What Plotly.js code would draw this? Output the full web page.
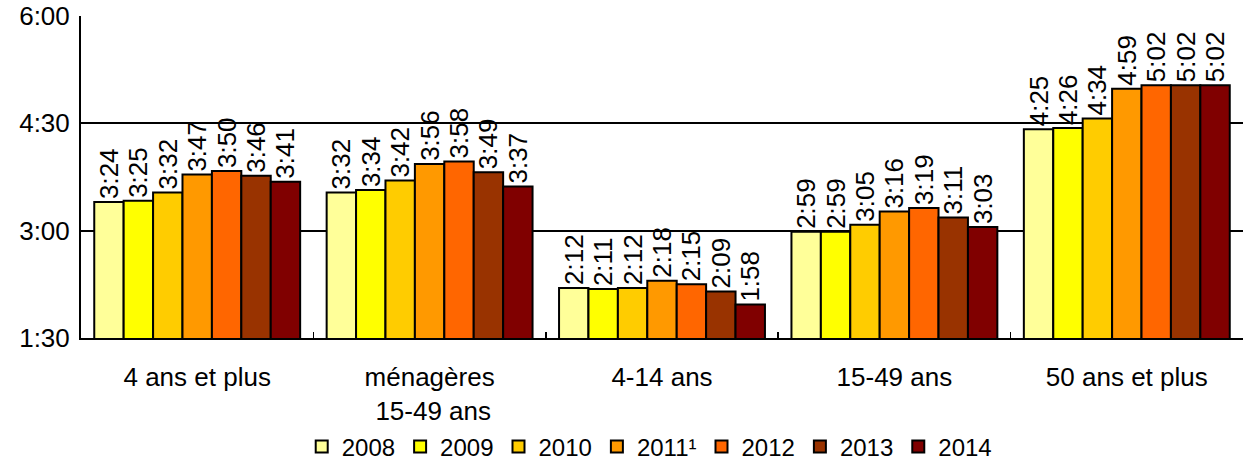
<!DOCTYPE html>
<html>
<head>
<meta charset="utf-8">
<script src="https://cdn.plot.ly/plotly-3.0.1.min.js"></script>
<style>html,body{margin:0;padding:0;background:#fff;}#chart{width:1245px;height:464px;}</style>
</head>
<body>
<div id="chart"></div>
<script>
const categories = ["4 ans et plus", "ménagères<br> 15-49 ans", "4-14 ans", "15-49 ans", "50 ans et plus"];
const years = ["2008", "2009", "2010", "2011¹", "2012", "2013", "2014"];
const colors = ["#FFFF99", "#FFFF00", "#FFCC00", "#FF9900", "#FF6600", "#993300", "#800000"];
// values in minutes, per year
const v2008 = [204, 212, 132, 179, 265];
const v2009 = [205, 214, 131, 179, 266];
const v2010 = [212, 222, 132, 185, 274];
const v2011 = [227, 236, 138, 196, 299];
const v2012 = [230, 238, 135, 199, 302];
const v2013 = [226, 229, 129, 191, 302];
const v2014 = [221, 217, 118, 183, 302];
const tickVals = [90, 180, 270, 360];
const tickText = ["1:30", "3:00", "4:30", "6:00"];

const series = [v2008, v2009, v2010, v2011, v2012, v2013, v2014];
function fmt(m) { const h = Math.floor(m / 60), mm = m % 60; return h + ":" + (mm < 10 ? "0" : "") + mm; }
const FONT = "Liberation Sans, Arial, sans-serif";

const traces = series.map((vals, i) => ({
  type: "bar",
  name: years[i],
  x: categories,
  y: vals,
  text: vals.map(fmt),
  textposition: "outside",
  textangle: -90,
  constraintext: "none",
  cliponaxis: false,
  textfont: {family: FONT, size: 26, color: "#000"},
  marker: {color: colors[i], line: {color: "#000", width: 2}},
  hoverinfo: "skip"
}));

const layout = {
  width: 1245, height: 464,
  margin: {l: 81, r: 2, t: 16, b: 126, autoexpand: false},
  paper_bgcolor: "#fff", plot_bgcolor: "#fff",
  font: {family: FONT, size: 26, color: "#000"},
  barmode: "group",
  bargap: 0.114,
  bargroupgap: 0,
  showlegend: true,
  legend: {
    orientation: "h", x: 0.489, xanchor: "center", y: -0.338, yanchor: "middle",
    font: {family: FONT, size: 24, color: "#000"},
    traceorder: "normal", itemwidth: 30
  },
  xaxis: {
    type: "category",
    showline: true, linecolor: "#000", linewidth: 2,
    ticks: "inside", tickson: "boundaries", ticklen: 6, tickcolor: "#000", tickwidth: 1.5,
    showgrid: false,
    ticklabelstandoff: 15,
    tickfont: {family: FONT, size: 26, color: "#000"}
  },
  yaxis: {
    range: [90, 360],
    tickvals: tickVals, ticktext: tickText,
    showline: true, linecolor: "#000", linewidth: 2,
    showgrid: true, gridcolor: "#000", gridwidth: 2,
    ticks: "", zeroline: false,
    tickfont: {family: FONT, size: 26, color: "#000"},
    ticklabelstandoff: 4
  }
};

Plotly.newPlot("chart", traces, layout, {staticPlot: true, displayModeBar: false});
</script>
</body>
</html>
